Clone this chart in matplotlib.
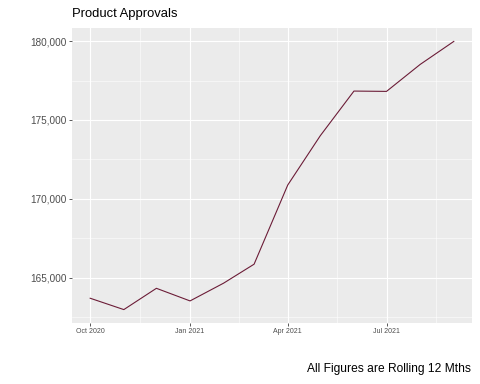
import matplotlib
matplotlib.use("Agg")
import matplotlib.pyplot as plt
import matplotlib.dates as mdates
import matplotlib.ticker as mticker
import numpy as np
import pandas as pd

# Monthly rolling 12-month product approvals
months = pd.date_range("2020-10-01", "2021-09-01", freq="MS")
approvals = [163690, 162970, 164320, 163520, 164650, 165850,
             170870, 174000, 176830, 176810, 178520, 179980]

title = "Product Approvals"
caption = "All Figures are Rolling 12 Mths"
major_ticks = pd.to_datetime(["2020-10-01", "2021-01-01", "2021-04-01", "2021-07-01"])
y_major = [165000, 170000, 175000, 180000]

plt.rcParams['font.family'] = ['Liberation Sans', 'DejaVu Sans']

fig = plt.figure(figsize=(480 / 72, 384 / 72), dpi=72)
ax = fig.add_axes([72 / 480, 1 - 323 / 384, 400 / 480, 295 / 384])
ax.set_facecolor('#EBEBEB')

ax.plot(months, approvals, color='#6B1B36', lw=1.1, zorder=3)

# ggplot-like expansion of 5%
xnum = mdates.date2num(months)
xr = xnum.max() - xnum.min()
ax.set_xlim(xnum.min() - 0.05 * xr, xnum.max() + 0.05 * xr)
yr = max(approvals) - min(approvals)
ax.set_ylim(min(approvals) - 0.05 * yr, max(approvals) + 0.05 * yr)

major_num = mdates.date2num(major_ticks)
minor_num = list((major_num[:-1] + major_num[1:]) / 2)
minor_num.append(major_num[-1] + (major_num[-1] - major_num[-2]) / 2)
ax.set_xticks(major_num)
ax.set_xticks(minor_num, minor=True)
ax.xaxis.set_major_formatter(mdates.DateFormatter('%b %Y'))
ax.set_yticks(y_major)
ax.set_yticks([162500, 167500, 172500, 177500], minor=True)
ax.yaxis.set_major_formatter(mticker.FuncFormatter(lambda v, p: f'{v:,.0f}'))

ax.grid(which='major', color='white', lw=1.1)
ax.grid(which='minor', color='white', lw=0.55)
ax.set_axisbelow(True)
for s in ax.spines.values():
    s.set_visible(False)

ax.tick_params(which='major', length=3, width=0.8, color='#333333', pad=2)
ax.tick_params(which='minor', length=0)
ax.tick_params(axis='y', labelsize=10, labelcolor='#4D4D4D')
ax.tick_params(axis='x', labelsize=7, labelcolor='#4D4D4D')

fig.text(72 / 480, 1 - 17.5 / 384, title, fontsize=13, ha='left', va='baseline')
fig.text(471 / 480, 1 - 372 / 384, caption, fontsize=12, ha='right', va='baseline')

fig.savefig('out.png', dpi=72)
